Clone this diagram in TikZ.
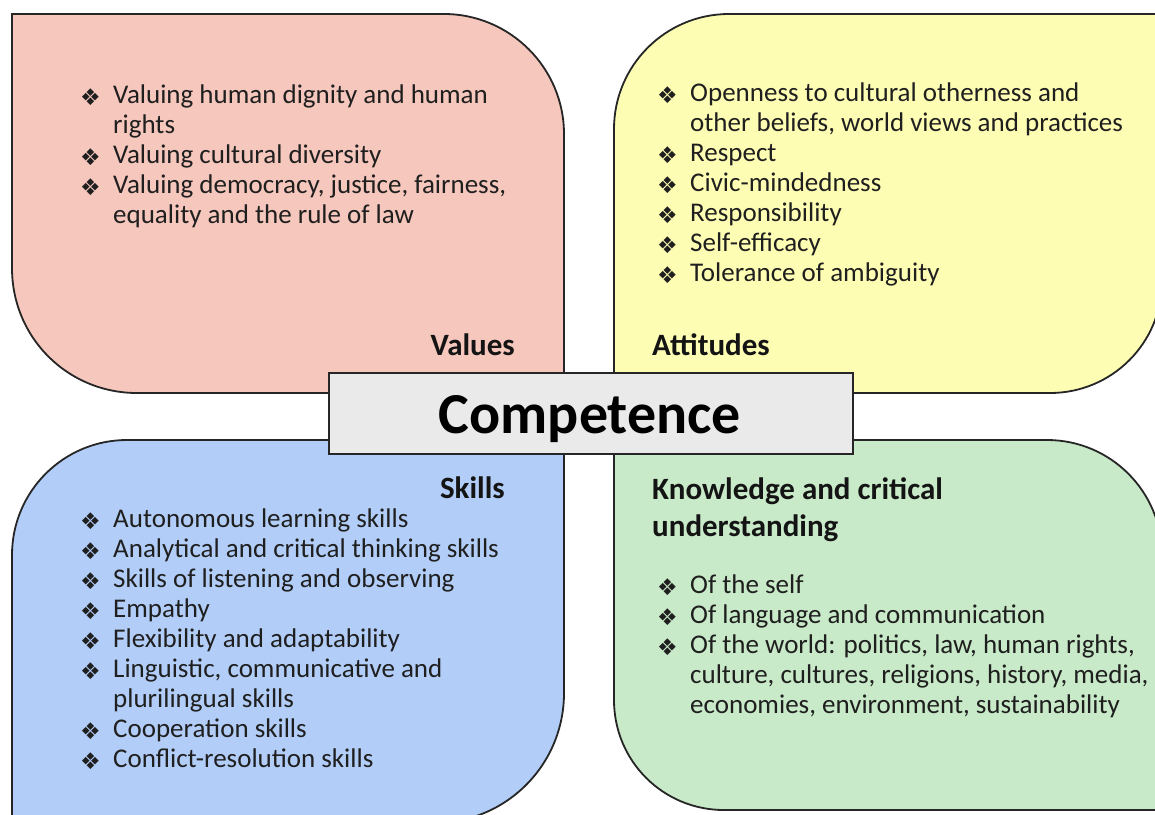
\documentclass[tikz,border=0pt]{standalone}
\usepackage{fontspec}
\setmainfont{Carlito}
\newfontfamily\bulfont{DejaVu Sans}
\newcommand{\bul}{\raisebox{-2.5pt}{\bulfont\fontsize{23}{23}\selectfont ❖}}
\definecolor{pinkc}{RGB}{246,199,188}
\definecolor{yellowc}{RGB}{254,253,180}
\definecolor{bluec}{RGB}{178,206,248}
\definecolor{greenc}{RGB}{200,234,200}
\definecolor{compc}{RGB}{234,234,234}
\tikzset{
  box/.style={draw=black!85, line width=1.8pt},
  listtext/.style={anchor=north west, inner sep=0pt, font=\fontsize{27}{30}\selectfont, text=black!88},
  head/.style={inner sep=0pt, font=\bfseries\fontsize{31}{37}\selectfont, text=black!92},
}
\begin{document}
\begin{tikzpicture}[x=1pt,y=-1pt]
\useasboundingbox (0,0) rectangle (1155,814);
\fill[white] (0,0) rectangle (1155,814);
\clip (0,0) rectangle (1155,814);
% Values (pink)
\draw[box, fill=pinkc] (12,14) -- (444,14) .. controls (510,14) and (564,68) .. (564,134)
  -- (564,393) -- (137,393) .. controls (68,393) and (12,338) .. (12,268) -- cycle;
% Attitudes (yellow)
\draw[box, fill=yellowc] (614,129) .. controls (614,65.5) and (665.5,14) .. (729,14)
  -- (1162,14) -- (1162,281) .. controls (1162,343) and (1112,393) .. (1050,393) -- (614,393) -- cycle;
% Skills (blue)
\draw[box, fill=bluec] (12,555) .. controls (12,491.5) and (63.5,440) .. (127,440)
  -- (564,440) -- (564,693) .. controls (564,765) and (506,823) .. (434,823) -- (12,823) -- cycle;
% Knowledge (green)
\draw[box, fill=greenc] (614,440) -- (1047,440) .. controls (1110.5,440) and (1162,491.5) .. (1162,555)
  -- (1162,810) -- (724,810) .. controls (663,810) and (614,761) .. (614,700) -- cycle;
% Competence
\node[box, fill=compc, minimum width=524pt, minimum height=81pt, inner sep=0pt] (compbox) at (591,413.5) {};
\node[inner sep=0pt, anchor=base, font=\bfseries\fontsize{58}{60}\selectfont] (comptext) at (590,433) {Competence};
% headings
\node[head, anchor=base east] (valh) at (515,355) {Values};
\node[head, anchor=base west] (atth) at (652,355) {Attitudes};
\node[head, anchor=base east] (skh) at (505,498) {Skills};
\node[head, anchor=base west] (knh1) at (652,499) {Knowledge and critical};
\node[head, anchor=base west] (knh2) at (652,536) {understanding};
% lists
\node[listtext] (vallist) at (80,82) {\begin{tabular}[t]{@{}p{33pt}@{}l@{}}
\bul & Valuing human dignity and human\\
 & rights\\
\bul & Valuing cultural diversity\\
\bul & Valuing democracy, justice, fairness,\\
 & equality and the rule of law
\end{tabular}};
\node[listtext] (attlist) at (657,80) {\begin{tabular}[t]{@{}p{33pt}@{}l@{}}
\bul & Openness to cultural otherness and\\
 & other beliefs, world views and practices\\
\bul & Respect\\
\bul & Civic-mindedness\\
\bul & Responsibility\\
\bul & Self-efficacy\\
\bul & Tolerance of ambiguity
\end{tabular}};
\node[listtext] (sklist) at (80,506) {\begin{tabular}[t]{@{}p{33pt}@{}l@{}}
\bul & Autonomous learning skills\\
\bul & Analytical and critical thinking skills\\
\bul & Skills of listening and observing\\
\bul & Empathy\\
\bul & Flexibility and adaptability\\
\bul & Linguistic, communicative and\\
 & plurilingual skills\\
\bul & Cooperation skills\\
\bul & Conflict-resolution skills
\end{tabular}};
\node[listtext] (knlist) at (657,572) {\begin{tabular}[t]{@{}p{33pt}@{}l@{}}
\bul & Of the self\\
\bul & Of language and communication\\
\bul & Of  the world: politics, law, human rights,\\
 & culture, cultures, religions, history, media,\\
 & economies, environment, sustainability
\end{tabular}};
\end{tikzpicture}
\end{document}
